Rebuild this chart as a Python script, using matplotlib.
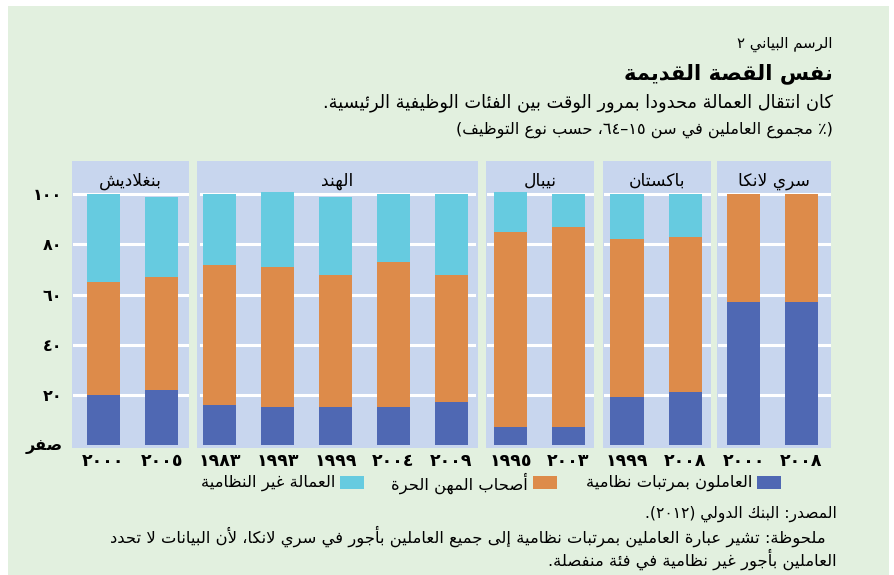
import re
import matplotlib
matplotlib.use("Agg")
import matplotlib.pyplot as plt
from matplotlib.patches import Rectangle

plt.rcParams['font.family'] = ['DejaVu Sans']

# ---------------- data ----------------
countries = ['بنغلاديش', 'الهند', 'نيبال', 'باكستان', 'سري لانكا']
years = [['٢٠٠٠', '٢٠٠٥'],
         ['١٩٨٣', '١٩٩٣', '١٩٩٩', '٢٠٠٤', '٢٠٠٩'],
         ['١٩٩٥', '٢٠٠٣'],
         ['١٩٩٩', '٢٠٠٨'],
         ['٢٠٠٠', '٢٠٠٨']]
formal_wage = [[20, 22], [16, 15, 15, 15, 17], [7, 7], [19, 21], [57, 57]]
self_employed = [[45, 45], [56, 56, 53, 58, 51], [78, 80], [63, 62], [43, 43]]
informal_wage = [[35, 32], [28, 30, 31, 27, 32], [16, 13], [18, 17], [0, 0]]
series_names = ['العاملون بمرتبات نظامية', 'أصحاب المهن الحرة', 'العمالة غير النظامية']
ytick_vals = [0, 20, 40, 60, 80, 100]
ytick_labels = ['صفر', '٢٠', '٤٠', '٦٠', '٨٠', '١٠٠']

label_small = 'الرسم البياني ٢'
title = 'نفس القصة القديمة'
subtitle = 'كان انتقال العمالة محدودا بمرور الوقت بين الفئات الوظيفية الرئيسية.'
units = '(٪ مجموع العاملين في سن ١٥–٦٤، حسب نوع التوظيف)'
source = 'المصدر: البنك الدولي (٢٠١٢).'
note1 = 'ملحوظة: تشير عبارة العاملين بمرتبات نظامية إلى جميع العاملين بأجور في سري لانكا، لأن البيانات لا تحدد'
note2 = 'العاملين بأجور غير نظامية في فئة منفصلة.'

# ---------------- colours ----------------
BG = '#e2f0df'
PANEL = '#c8d6ee'
COLORS = ['#4f68b3', '#dd8b4a', '#66cbe0']

# ---------------- Arabic shaping (presentation forms) + RTL ordering ----------------
DUAL = {'\u0626': 0xFE89, '\u0628': 0xFE8F, '\u062A': 0xFE95, '\u062B': 0xFE99, '\u062C': 0xFE9D,
        '\u062D': 0xFEA1, '\u062E': 0xFEA5, '\u0633': 0xFEB1, '\u0634': 0xFEB5, '\u0635': 0xFEB9,
        '\u0636': 0xFEBD, '\u0637': 0xFEC1, '\u0638': 0xFEC5, '\u0639': 0xFEC9, '\u063A': 0xFECD,
        '\u0641': 0xFED1, '\u0642': 0xFED5, '\u0643': 0xFED9, '\u0644': 0xFEDD, '\u0645': 0xFEE1,
        '\u0646': 0xFEE5, '\u0647': 0xFEE9, '\u064A': 0xFEF1}
RIGHT = {'\u0622': 0xFE81, '\u0623': 0xFE83, '\u0624': 0xFE85, '\u0625': 0xFE87, '\u0627': 0xFE8D,
         '\u0629': 0xFE93, '\u062F': 0xFEA9, '\u0630': 0xFEAB, '\u0631': 0xFEAD, '\u0632': 0xFEAF,
         '\u0648': 0xFEED, '\u0649': 0xFEEF}
NONJOIN = {'\u0621': 0xFE80}
LAMALEF = {'\u0622': 0xFEF5, '\u0623': 0xFEF7, '\u0625': 0xFEF9, '\u0627': 0xFEFB}


def _jl(c):
    return c in DUAL or c == '\u0640'


def _jr(c):
    return c in DUAL or c in RIGHT or c == '\u0640'


def shape(s):
    out = []
    i, n = 0, len(s)
    while i < n:
        c = s[i]
        pj = i > 0 and _jl(s[i - 1])
        if c == '\u0644' and i + 1 < n and s[i + 1] in LAMALEF:
            out.append(chr(LAMALEF[s[i + 1]] + (1 if pj else 0)))
            i += 2
            continue
        nj = i + 1 < n and _jr(s[i + 1])
        if c in DUAL:
            b = DUAL[c]
            out.append(chr(b + 3 if (pj and nj) else b + 1 if pj else b + 2 if nj else b))
        elif c in RIGHT:
            out.append(chr(RIGHT[c] + (1 if pj else 0)))
        elif c in NONJOIN:
            out.append(chr(NONJOIN[c]))
        else:
            out.append(c)
        i += 1
    return ''.join(out)


MIRROR = {'(': ')', ')': '(', '[': ']', ']': '['}


def ar(s):
    toks = re.findall(r'[0-9\u0660-\u0669]+|.', shape(s))
    toks.reverse()
    return ''.join(MIRROR.get(t, t) for t in toks)


# ---------------- figure ----------------
W, H = 895, 575
fig = plt.figure(figsize=(W / 100, H / 100), dpi=100)
fig.patch.set_facecolor('white')
fig.patches.append(Rectangle((8 / W, 0), (889 - 8) / W, 1 - 6 / H, transform=fig.transFigure,
                             facecolor=BG, edgecolor='none', zorder=-10))


def fx(x):
    return x / W


def fy(y):
    return 1 - y / H


# panel pixel extents and x-limits (in bar units)
panel_px = [(72, 189), (197, 478), (486, 594), (603, 711), (717, 831)]
xlims = [(-0.54, 1.47), (-0.39, 4.46), (-0.42, 1.44), (-0.41, 1.44), (-0.46, 1.51)]
top_px, bot_px = 161, 448
YLIM = (-1.2, 113.3)
bw = 0.57

for i, (l, r) in enumerate(panel_px):
    ax = fig.add_axes([fx(l), fy(bot_px), (r - l) / W, (bot_px - top_px) / H])
    ax.set_facecolor(PANEL)
    for s in ax.spines.values():
        s.set_visible(False)
    ax.set_xlim(*xlims[i])
    ax.set_ylim(*YLIM)
    for v in ytick_vals[1:]:
        ax.axhline(v, color='white', lw=2.2, xmin=0.015, xmax=0.985, zorder=1)
    x = list(range(len(years[i])))
    b0 = [0] * len(x)
    b1 = formal_wage[i]
    b2 = [a + b for a, b in zip(formal_wage[i], self_employed[i])]
    ax.bar(x, formal_wage[i], bw, bottom=b0, color=COLORS[0], zorder=2)
    ax.bar(x, self_employed[i], bw, bottom=b1, color=COLORS[1], zorder=2)
    ax.bar(x, informal_wage[i], bw, bottom=b2, color=COLORS[2], zorder=2)
    ax.set_xticks(x, [ar(y) for y in years[i]], fontsize=12.5, fontweight='bold')
    ax.tick_params(axis='x', length=0, pad=3)
    if i == 0:
        ax.set_yticks(ytick_vals, [ar(t) for t in ytick_labels], fontsize=11.5, fontweight='bold')
        ax.tick_params(axis='y', length=0, pad=7)
    else:
        ax.set_yticks([])
    ax.text(sum(xlims[i]) / 2, 105.5, ar(countries[i]), ha='center', va='center', fontsize=12.3)

# legend (right to left)
leg_items = [(757, 781, 752), (533, 557, 528), (340, 364, 335)]
for k, (pl, pr, tr) in enumerate(leg_items):
    fig.patches.append(Rectangle((fx(pl), fy(489)), (pr - pl) / W, 13 / H, transform=fig.transFigure,
                                 facecolor=COLORS[k], edgecolor='none'))
    fig.text(fx(tr), fy(483), ar(series_names[k]), ha='right', va='center', fontsize=11.8)

# titles
fig.text(fx(833), fy(44), ar(label_small), ha='right', va='center', fontsize=10.7)
fig.text(fx(833), fy(74), ar(title), ha='right', va='center', fontsize=15.2, fontweight='bold')
fig.text(fx(833), fy(103), ar(subtitle), ha='right', va='center', fontsize=12.8)
fig.text(fx(833), fy(130), ar(units), ha='right', va='center', fontsize=11.6)

# footer
fig.text(fx(837), fy(514), ar(source), ha='right', va='center', fontsize=11.2)
fig.text(fx(826), fy(536), ar(note1), ha='right', va='center', fontsize=11.8)
fig.text(fx(837), fy(559), ar(note2), ha='right', va='center', fontsize=11.8)

fig.savefig('out.png', dpi=100, facecolor=fig.get_facecolor())
